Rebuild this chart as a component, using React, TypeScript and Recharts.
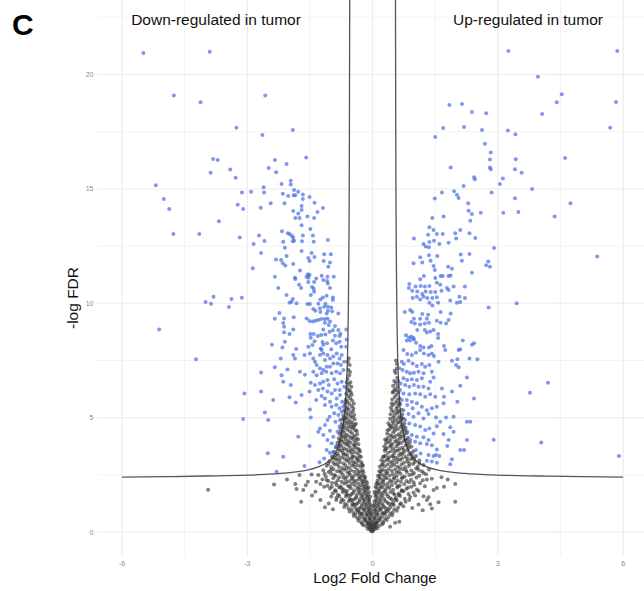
import React from 'react';
import { ComposedChart, Scatter, Line, XAxis, YAxis, CartesianGrid } from 'recharts';

const xTicks = [-6, -3, 0, 3, 6];
const yTicks = [0, 5, 10, 15, 20];
const xMinor = [-4.5, -1.5, 1.5, 4.5];
const yMinor = [2.5, 7.5, 12.5, 17.5, 22.5];
const xDomain = [-6.6, 6.5];
const yDomain = [-1.09, 23.26];

const xTitle = 'Log2 Fold Change';
const yTitle = '-log FDR';
const panelTag = 'C';
const downLabel = 'Down-regulated in tumor';
const upLabel = 'Up-regulated in tumor';

// threshold curve (|log2FC|, -log FDR)
const curveAbsX = [6, 5, 4, 3, 2.5, 2, 1.6, 1.3, 1.1, 0.95, 0.85, 0.78, 0.72, 0.68, 0.65, 0.62, 0.6, 0.59, 0.58, 0.57, 0.56, 0.555, 0.55, 0.547];
const curveY = [2.4, 2.42, 2.45, 2.49, 2.53, 2.6, 2.7, 2.85, 3.03, 3.28, 3.6, 4.0, 4.5, 5.0, 5.6, 6.7, 7.7, 8.6, 9.8, 11.8, 14.5, 17.5, 21.5, 25];

const downRegulated: number[][] = [
  [-5.49,20.94],[-3.9,21.0],[-4.76,19.09],[-4.12,18.79],[-2.57,19.09],[-3.26,17.68],[-2.64,17.36],[-1.91,17.58],[-3.82,16.31],[-3.71,16.27],[-3.41,15.85],[-3.88,15.71],[-3.28,15.49],[-5.19,15.16],[-5.0,14.56],[-3.13,14.84],[-4.87,14.12],[-4.77,13.03],[-4.15,13.03],[-3.68,13.59],[-3.23,14.31],[-3.1,14.12],[-3.18,12.88],[-4.0,10.06],[-3.87,9.98],[-3.81,10.29],[-3.38,10.19],[-3.44,9.84],[-3.13,10.24],[-5.11,8.86],[-4.23,7.55],[-3.07,6.06],[-2.58,5.23],[-3.1,4.94],[-2.5,4.9],[-2.51,3.45],
  [-2.34,16.27],[-1.59,16.38],[-2.49,15.92],[-2.06,16.09],[-2.31,15.73],[-2.18,15.22],[-1.96,15.36],[-1.96,15.19],[-2.61,15.07],[-2.6,14.84],[-2.91,14.88],[-2.15,14.79],[-1.88,14.95],[-1.78,14.88],[-1.67,14.76],[-1.51,14.65],[-2.02,14.69],[-1.89,14.72],[-1.85,14.72],[-1.67,14.56],[-2.44,14.37],[-2.11,14.37],[-1.39,14.4],[-1.7,14.25],[-1.19,14.17],[-1.9,14.04],[-1.7,14.08],[-1.78,13.93],[-1.32,13.99],[-2.68,14.18],[-1.85,13.73],[-1.75,13.73],[-1.56,13.79],[-1.4,13.73],[-1.7,13.41],[-2.17,13.15],[-1.49,13.25],[-2.72,12.97],[-2.03,13.06],[-1.98,13.02],[-1.93,12.94],[-1.9,12.87],[-1.88,12.74],[-1.91,12.71],[-1.67,12.96],[-1.43,12.97],[-2.14,12.69],[-2.59,12.72],[-2.85,12.59],[-1.69,12.71],[-1.41,12.69],[-1.07,12.77],[-2.1,12.43],[-1.7,12.29],[-2.67,12.2],[-1.46,12.2],[-1.16,12.14],[-1.0,12.14],[-1.39,12.02],[-1.54,11.98],[-1.51,11.85],[-2.31,11.92],[-2.19,11.89],[-2.06,12.07],[-2.15,11.75],[-2.09,11.65],[-1.9,11.72],[-1.17,11.85],[-1.02,11.78],[-1.06,11.6],[-2.87,11.53],[-1.74,11.44],[-1.55,11.27],[-1.51,11.24],[-1.58,11.16],[-1.54,11.12],[-1.86,11.12],[-1.85,11.06],[-2.34,11.16],[-1.22,11.21],[-1.35,11.08],[-1.08,11.16],[-0.93,11.16],[-1.18,11.02],[-1.09,10.98],[-1.07,10.87],[-1.4,10.93],[-1.54,10.93],[-1.76,10.81],[-1.71,10.67],[-2.26,10.67],[-1.45,10.71],[-1.41,10.64],[-1.4,10.51],[-1.48,10.36],[-1.02,10.67],[-2.06,10.36],[-1.19,10.25],[-1.1,10.33],[-1.25,10.17],[-0.95,10.25],[-0.95,10.14],[-1.91,10.19],[-1.94,10.07],[-1.99,10.03],[-1.82,10.0],[-1.56,9.97],[-1.5,9.97],[-1.3,9.98],[-1.13,9.98],[-1.42,9.75],[-1.37,9.68],[-1.26,9.78],[-1.16,9.85],[-1.07,9.85],[-0.99,9.82],[-1.07,9.68],[-1.25,9.62],[-1.1,9.56],[-0.97,9.65],[-0.82,9.55],[-2.23,9.58],[-2.34,9.33],[-2.12,9.34],[-1.89,9.39],[-1.58,9.34],[-1.51,9.23],[-1.43,9.2],[-1.37,9.24],[-1.3,9.27],[-1.23,9.31],[-1.15,9.31],[-1.08,9.33],[-1.02,9.21],[-2.14,9.14],[-2.12,8.98],[-1.14,9.15],[-1.05,9.05],[-0.9,9.01],[-1.9,8.86],[-1.99,8.66],[-2.12,8.73],[-1.18,8.86],[-1.03,8.76],[-0.95,8.82],[-0.82,8.83],[-0.77,8.67],[-0.63,8.86],[-1.49,8.66],[-1.41,8.66],[-1.48,8.5],[-1.31,8.57],[-1.23,8.61],[-1.13,8.64],[-0.9,8.58],[-0.79,8.57],[-0.62,8.42],[-2.41,8.19],[-2.1,8.32],[-2.16,8.07],[-1.44,8.18],[-1.39,8.34],[-1.2,8.31],[-1.18,8.19],[-1.09,8.25],[-0.95,8.37],[-0.87,8.25],[-0.79,8.32],[-0.63,8.1],[-1.83,8.0],[-1.54,8.1],[-1.24,8.02],[-0.99,7.99],[-0.75,8.1],
  [-1.22,7.96],[-1.9,7.74],[-1.86,7.59],[-1.63,7.74],[-1.5,7.81],[-1.42,7.59],[-1.38,7.45],[-1.34,7.3],[-1.26,7.74],[-1.18,7.81],[-1.14,7.52],[-1.08,7.74],[-1.02,7.59],[-0.94,7.67],[-0.86,7.81],[-0.79,7.59],[-0.74,7.74],[-0.68,7.45],[-0.76,7.3],[-0.84,7.37],[-0.94,7.37],[-1.02,7.23],[-1.1,7.23],[-1.18,7.08],[-1.26,7.16],[-2.2,7.59],[-2.34,7.2],[-2.04,7.11],[-1.74,7.01],[-1.62,6.88],[-1.42,7.01],[-1.34,6.86],[-1.22,6.94],[-1.11,7.01],[-0.98,6.94],[-0.87,7.01],[-0.78,6.94],[-0.7,7.08],[-2.67,6.98],[-2.18,6.86],[-2.14,6.57],[-1.96,6.43],[-1.48,6.53],[-1.38,6.43],[-1.26,6.5],[-1.18,6.57],[-1.08,6.65],[-1.05,6.43],[-0.92,6.68],[-0.84,6.5],[-0.74,6.57],[-0.68,6.35],[-0.79,6.21],[-0.9,6.21],[-0.98,6.06],[-1.08,6.14],[-1.19,6.28],[-1.3,6.21],[-1.51,6.14],[-1.7,5.99],[-2.67,6.14],[-2.38,5.77],[-1.99,5.89],[-1.84,5.66],[-1.5,5.36],[-1.35,5.77],[-1.22,5.95],[-1.14,5.84],[-1.02,5.7],[-0.86,5.84],[-0.78,5.99],[-0.73,5.7],[-0.7,5.48],[-0.79,5.41],[-0.87,5.55],[-0.98,5.48],[-1.14,5.55],[-0.74,5.26],[-0.82,5.12],[-0.92,5.19],[-1.03,5.04],[-1.48,5.01],[-1.08,4.9],[-0.89,4.82],[-0.78,4.9],[-1.14,4.68],[-1.26,4.53],[-1.02,4.43],[-0.79,4.61],[-0.84,4.39],[-0.94,4.17],[-1.08,4.02],[-1.18,4.24],[-1.3,4.39],[-1.78,4.17],[-1.51,3.76],[-0.98,3.88],[-0.87,3.76],[-1.1,3.59],[-1.02,3.47],[-0.94,3.5],[-1.16,3.22],[-1.27,3.05],[-2.14,3.29],[-1.63,2.89],[-2.3,2.64]
];

const upRegulated: number[][] = [
  [3.25,21.03],[5.86,21.03],[3.96,19.9],[4.53,19.14],[4.41,18.79],[5.83,18.8],[2.72,18.31],[4.06,18.28],[5.69,17.67],[3.24,17.56],[3.42,17.39],[2.69,16.98],[3.43,16.3],[4.61,16.35],[3.41,15.86],[3.57,15.71],[3.12,15.46],[3.82,15.0],[3.41,14.59],[3.13,13.96],[3.49,13.99],[4.36,13.8],[4.74,14.37],[5.38,12.05],[3.45,10.0],[3.77,6.09],[4.2,6.53],[2.9,4.04],[4.04,3.92],[5.9,3.32],
  [1.84,18.67],[2.14,18.71],[2.38,18.36],[1.69,17.66],[1.5,17.27],[2.19,17.71],[2.62,17.58],
  [2.83,16.59],[2.81,16.29],[2.81,15.94],[2.83,15.86],[1.87,15.94],[2.43,15.51],[2.45,15.42],[2.18,15.13],[3.05,15.22],[1.66,14.84],[1.95,14.9],[2.02,14.75],[2.06,14.6],[2.85,14.84],[1.49,14.58],[2.29,14.37],[2.3,14.05],[2.38,13.9],[2.59,13.96],[2.34,13.61],[1.43,13.73],[1.7,13.79],[1.36,13.32],[1.46,13.21],[1.33,13.0],[1.54,13.03],[1.68,13.03],[1.98,13.06],[2.1,13.21],[2.32,13.06],[2.46,12.86],[2.0,12.83],[0.99,12.83],[1.22,12.59],[1.36,12.68],[1.47,12.74],[1.27,12.48],[1.35,12.45],[1.6,12.59],[1.82,12.65],[2.91,12.42],[1.55,12.07],[1.14,12.01],[1.35,12.1],[0.98,11.75],[1.19,11.78],[1.39,11.86],[2.11,12.13],[2.14,11.86],[2.32,12.16],[2.77,11.83],[2.72,11.66],[2.81,11.6],[2.38,11.34],[1.46,11.63],[1.49,11.46],[1.81,11.6],[1.9,11.51],[1.23,11.19],[1.14,11.05],[1.5,11.11],[1.63,11.19],[1.68,11.19],[1.82,11.19],[1.87,11.22],[0.88,10.84],[1.03,10.73],[1.15,10.76],[1.25,10.73],[1.36,10.76],[1.54,10.9],[1.62,10.81],[1.78,10.67],[1.82,10.58],[1.94,10.73],[2.21,10.73],[0.87,10.67],[0.95,10.55],[1.07,10.52],[1.19,10.41],[1.27,10.52],[1.39,10.49],[1.5,10.49],[1.65,10.55],[0.96,10.23],[1.06,10.29],[1.14,10.17],[1.22,10.29],[1.31,10.23],[1.43,10.23],[1.54,10.26],[1.36,10.03],[1.43,9.91],[1.57,10.03],[1.86,10.12],[2.08,10.29],[2.21,10.23],[2.02,10.03],[2.1,10.06],[2.78,9.82],[0.77,9.62],[0.9,9.71],[0.95,9.62],[1.19,9.53],[1.33,9.5],[1.63,9.62],[1.87,9.56],[0.99,9.33],[1.14,9.33],[1.3,9.33],[0.93,9.18],[1.01,9.12],[1.14,9.07],[1.25,9.12],[1.35,9.15],[1.54,9.24],[1.63,9.15],[1.76,9.12],[1.82,9.27],[1.07,8.83],[1.25,8.83],[1.3,8.72],[1.38,8.77],[1.46,8.83],[1.57,8.66],[0.8,8.6],[0.87,8.51],[0.93,8.54],[0.98,8.48],[0.82,8.37],[0.9,8.37],[0.99,8.42],[1.04,8.28],[1.14,8.13],[1.22,8.07],[1.35,8.07],[1.41,8.13],[1.57,8.48],[1.71,8.13],[2.16,8.37],[2.38,8.19],[2.43,8.25],[2.1,7.99],
  [0.74,7.96],[0.83,7.78],[0.94,7.74],[1.04,7.84],[1.14,7.96],[1.23,7.81],[1.34,7.74],[1.42,7.81],[1.47,7.7],[1.58,7.45],[1.74,7.96],[1.9,7.49],[2.03,7.55],[2.06,7.96],[2.32,7.59],[2.51,7.55],[0.7,7.45],[0.75,7.35],[0.86,7.49],[0.96,7.37],[1.06,7.26],[1.18,7.35],[1.26,7.23],[1.36,7.3],[2.0,7.3],[2.06,7.2],[0.64,7.16],[0.72,7.08],[0.82,7.01],[0.9,6.94],[0.99,6.97],[1.1,7.01],[1.22,6.94],[1.42,7.01],[1.46,6.76],[1.38,6.57],[1.18,6.72],[1.06,6.65],[0.94,6.68],[0.83,6.65],[0.74,6.72],[0.67,6.5],[0.78,6.43],[0.88,6.35],[0.99,6.43],[1.1,6.35],[1.22,6.35],[1.34,6.28],[2.26,6.76],[2.1,6.4],[1.9,6.14],[1.66,6.28],[1.5,5.92],[1.38,6.03],[1.26,5.92],[1.14,6.03],[1.02,6.06],[0.88,6.03],[0.74,6.06],[0.66,6.21],[1.71,5.92],[2.03,5.7],[2.43,5.84],[1.7,5.63],[1.54,5.48],[1.42,5.41],[1.3,5.33],[1.18,5.48],[1.06,5.63],[0.94,5.7],[0.82,5.77],[0.7,5.77],[0.83,5.55],[0.96,5.41],[0.74,5.33],[0.86,5.16],[0.98,5.04],[1.1,5.19],[1.22,4.97],[1.34,5.16],[1.52,5.01],[1.62,4.82],[1.76,5.01],[1.94,5.04],[2.26,4.82],[2.34,4.82],[0.78,4.9],[0.88,4.75],[1.02,4.68],[1.14,4.61],[1.26,4.46],[1.36,4.53],[1.46,4.31],[1.54,4.63],[1.86,4.58],[1.94,4.39],[1.7,4.29],[0.83,4.39],[0.94,4.24],[1.06,4.17],[1.22,4.14],[1.34,4.02],[1.3,3.85],[1.14,3.88],[1.02,3.95],[0.9,4.02],[1.42,3.8],[1.82,4.02],[2.26,4.02],[1.79,3.76],[1.54,3.61],[2.1,3.59],[2.19,3.59],[1.04,3.59],[1.15,3.44],[1.34,3.37],[1.46,3.32],[1.52,3.37],[1.6,3.32],[1.9,3.18],[1.86,2.97],[1.3,3.12],[1.42,3.08],[1.54,3.03]
];

const notSignificant: number[][] = [
  [-3.94,1.85],[-2.36,2.08],[-1.75,2.49],[-1.46,2.52],[-1.82,1.88],[-1.66,1.84],[-1.71,1.33],[-1.37,1.76],[-1.35,2.2],[-1.16,1.98],[-1.14,1.08],[-0.99,1.55],[-0.87,1.4],
  [-1.55,2.2],[-1.85,2.1],[-1.45,1.6],[-1.25,1.4],[-1.05,1.25],[-2.05,2.3],[-1.6,2.05],[-0.95,1.0],
  [1.98,2.1],[1.98,1.33],[1.71,1.98],[1.58,1.3],[1.22,1.57],[1.3,1.4],[1.42,1.03],[1.65,2.4],[1.8,2.3],
  [1.46,1.84],[1.34,1.52],[1.38,1.22],[1.1,1.2],[0.95,1.05],[1.2,0.95],
  [-0.57,7.6],[-0.55,7.3],[-0.58,7.1],[-0.56,6.85],[-0.6,6.7],[-0.53,6.55],[-0.57,6.45],[-0.61,6.3],[-0.55,6.2],[-0.51,6.35],[-0.63,6.05],[-0.58,5.95],[-0.52,6.1],[-0.64,5.8],[-0.6,5.7],[-0.54,5.85],[-0.49,5.75],[-0.66,5.55],[-0.61,5.45],[-0.56,5.6],[-0.5,5.5],[-0.46,5.4],[-0.68,5.3],[-0.63,5.22],[-0.57,5.35],[-0.52,5.2],[-0.47,5.28],[-0.7,5.1],[-0.64,5.02],[-0.59,5.14],[-0.53,5.05],[-0.44,5.12],
  [-0.73,4.92],[-0.67,4.85],[-0.62,4.95],[-0.55,4.88],[-0.49,4.8],[-0.43,4.93],[-0.74,4.72],[-0.69,4.65],[-0.63,4.76],[-0.58,4.62],[-0.51,4.7],[-0.45,4.6],[-0.4,4.74],[-0.77,4.52],[-0.71,4.44],[-0.66,4.55],[-0.6,4.47],[-0.54,4.4],[-0.47,4.53],[-0.41,4.45],[-0.79,4.3],[-0.74,4.22],[-0.68,4.34],[-0.62,4.25],[-0.56,4.18],[-0.49,4.32],[-0.43,4.2],[-0.37,4.28],[-0.81,4.1],[-0.75,4.02],[-0.7,4.14],[-0.64,4.05],[-0.58,3.98],[-0.51,4.1],[-0.44,4.0],[-0.38,4.08],
  [-0.84,3.9],[-0.78,3.83],[-0.71,3.95],[-0.66,3.86],[-0.59,3.8],[-0.53,3.92],[-0.46,3.82],[-0.4,3.9],[-0.34,3.84],[-0.88,3.7],[-0.81,3.63],[-0.75,3.75],[-0.68,3.66],[-0.62,3.6],[-0.55,3.72],[-0.48,3.62],[-0.41,3.7],[-0.35,3.64],[-0.92,3.5],[-0.85,3.43],[-0.78,3.55],[-0.71,3.46],[-0.64,3.4],[-0.57,3.52],[-0.5,3.42],[-0.43,3.5],[-0.36,3.44],[-0.3,3.52],[-0.97,3.3],[-0.89,3.23],[-0.82,3.35],[-0.74,3.26],[-0.67,3.2],[-0.6,3.32],[-0.52,3.22],[-0.45,3.3],[-0.38,3.24],[-0.31,3.32],[-1.03,3.1],[-0.94,3.03],[-0.86,3.15],[-0.78,3.06],[-0.7,3.0],[-0.62,3.12],[-0.55,3.02],[-0.47,3.1],[-0.4,3.04],[-0.33,3.12],[-0.27,3.05],
  [-1.1,2.9],[-0.99,2.83],[-0.9,2.95],[-0.81,2.86],[-0.73,2.8],[-0.65,2.92],[-0.57,2.82],[-0.49,2.9],[-0.42,2.84],[-0.35,2.92],[-0.28,2.85],[-0.23,2.9],[-1.18,2.7],[-1.05,2.63],[-0.94,2.75],[-0.85,2.66],[-0.76,2.6],[-0.68,2.72],[-0.6,2.62],[-0.52,2.7],[-0.44,2.64],[-0.37,2.72],[-0.3,2.65],[-0.24,2.7],[-1.3,2.5],[-1.12,2.43],[-0.99,2.55],[-0.89,2.46],[-0.8,2.4],[-0.71,2.52],[-0.62,2.42],[-0.54,2.5],[-0.46,2.44],[-0.39,2.52],[-0.32,2.45],[-0.25,2.5],[-0.2,2.44],[-1.2,2.3],[-1.06,2.23],[-0.94,2.35],[-0.83,2.26],[-0.74,2.2],[-0.65,2.32],[-0.56,2.22],[-0.48,2.3],[-0.4,2.24],[-0.33,2.32],[-0.26,2.25],[-0.2,2.3],[-0.16,2.22],[-1.25,2.1],[-1.08,2.03],[-0.97,2.15],[-0.86,2.06],[-0.77,2.0],[-0.68,2.12],[-0.59,2.02],[-0.5,2.1],[-0.42,2.04],[-0.34,2.12],[-0.27,2.05],[-0.21,2.1],[-0.15,2.02],
  [-1.02,1.9],[-0.9,1.83],[-0.8,1.95],[-0.7,1.86],[-0.61,1.8],[-0.52,1.92],[-0.44,1.82],[-0.36,1.9],[-0.29,1.84],[-0.22,1.92],[-0.16,1.85],[-0.12,1.9],[-0.95,1.7],[-0.83,1.63],[-0.72,1.75],[-0.63,1.66],[-0.54,1.6],[-0.46,1.72],[-0.38,1.62],[-0.3,1.7],[-0.23,1.64],[-0.17,1.72],[-0.11,1.65],[-0.86,1.5],[-0.74,1.43],[-0.64,1.55],[-0.55,1.46],[-0.47,1.4],[-0.39,1.52],[-0.31,1.42],[-0.24,1.5],[-0.18,1.44],[-0.12,1.52],[-0.08,1.45],[-0.76,1.3],[-0.66,1.23],[-0.57,1.35],[-0.48,1.26],[-0.4,1.2],[-0.32,1.32],[-0.25,1.22],[-0.19,1.3],[-0.13,1.24],[-0.08,1.32],[-0.68,1.1],[-0.58,1.03],[-0.49,1.15],[-0.41,1.06],[-0.33,1.0],[-0.26,1.12],[-0.2,1.02],[-0.14,1.1],[-0.09,1.04],[-0.05,1.12],
  [-0.55,0.9],[-0.46,0.83],[-0.38,0.95],[-0.31,0.86],[-0.24,0.8],[-0.18,0.92],[-0.13,0.82],[-0.08,0.9],[-0.04,0.84],[-0.45,0.7],[-0.37,0.63],[-0.3,0.75],[-0.23,0.66],[-0.17,0.6],[-0.12,0.72],[-0.07,0.62],[-0.03,0.7],[-0.34,0.5],[-0.27,0.43],[-0.2,0.55],[-0.14,0.46],[-0.09,0.4],[-0.05,0.52],[-0.02,0.45],[-0.22,0.3],[-0.15,0.26],[-0.1,0.34],[-0.06,0.24],[-0.03,0.3],[-0.12,0.15],[-0.07,0.12],[-0.03,0.18],[-0.04,0.05],[0.0,0.03],
  [-0.59,7.45],[-0.54,7.0],[-0.62,6.55],[-0.5,6.0],[-0.58,6.18],[-0.65,5.68],[-0.45,5.62],[-0.62,5.38],[-0.48,5.02],[-0.69,4.98],[-0.58,4.78],[-0.43,4.68],[-0.72,4.6],[-0.52,4.58],[-0.38,4.42],[-0.76,4.38],[-0.65,4.18],[-0.47,4.15],[-0.35,4.05],[-0.79,3.98],[-0.61,3.88],[-0.43,3.78],[-0.83,3.75],[-0.72,3.58],[-0.52,3.55],[-0.32,3.6],[-0.9,3.35],[-0.69,3.38],[-0.48,3.28],[-0.28,3.28],[-0.95,3.2],[-0.8,3.18],[-0.58,3.16],[-0.36,3.18],[-1.06,2.98],[-0.84,2.98],[-0.63,2.78],[-0.45,2.98],[-0.25,2.95],[-1.0,2.7],[-0.78,2.68],[-0.56,2.58],[-0.34,2.58],[-0.22,2.62],[-1.15,2.55],[-0.92,2.5],[-0.7,2.38],[-0.5,2.36],[-0.29,2.38],[-0.18,2.4],[-1.1,2.28],[-0.88,2.16],[-0.63,2.18],[-0.44,2.18],[-0.24,2.18],[-0.13,2.15],[-0.98,1.98],[-0.74,1.92],[-0.55,1.98],[-0.33,1.96],[-0.19,1.98],[-0.1,1.96],[-0.88,1.78],[-0.66,1.78],[-0.5,1.66],[-0.34,1.76],[-0.2,1.78],[-0.09,1.75],[-0.8,1.58],[-0.6,1.62],[-0.42,1.46],[-0.27,1.58],[-0.15,1.58],[-0.06,1.55],[-0.7,1.38],[-0.52,1.4],[-0.36,1.26],[-0.22,1.38],[-0.1,1.38],[-0.62,1.18],[-0.45,1.2],[-0.3,1.06],[-0.17,1.18],[-0.06,1.2],[-0.5,0.98],[-0.35,0.9],[-0.22,0.98],[-0.1,0.96],[-0.02,0.98],[-0.41,0.78],[-0.27,0.8],[-0.15,0.76],[-0.05,0.78],[-0.31,0.6],[-0.18,0.5],[-0.08,0.58],[-0.25,0.36],[-0.12,0.38],[-0.04,0.36],[-0.08,0.22],[-0.02,0.12],
  [0.56,7.5],[0.58,7.15],[0.55,6.95],[0.59,6.75],[0.52,6.6],[0.56,6.5],[0.6,6.35],[0.53,6.25],[0.49,6.4],[0.62,6.1],[0.57,6.0],[0.5,6.15],[0.64,5.85],[0.59,5.75],[0.53,5.9],[0.47,5.8],[0.66,5.6],[0.6,5.5],[0.55,5.65],[0.49,5.55],[0.44,5.45],[0.69,5.35],[0.63,5.25],[0.57,5.4],[0.51,5.25],[0.46,5.32],[0.71,5.15],[0.65,5.05],[0.58,5.18],[0.52,5.08],[0.43,5.15],
  [0.74,4.95],[0.68,4.88],[0.61,4.98],[0.54,4.9],[0.48,4.83],[0.42,4.95],[0.76,4.75],[0.7,4.68],[0.64,4.8],[0.57,4.66],[0.5,4.74],[0.44,4.63],[0.38,4.76],[0.79,4.55],[0.73,4.47],[0.67,4.58],[0.6,4.5],[0.53,4.43],[0.46,4.56],[0.4,4.48],[0.82,4.33],[0.76,4.25],[0.69,4.37],[0.63,4.28],[0.56,4.21],[0.49,4.35],[0.42,4.23],[0.35,4.31],[0.85,4.12],[0.78,4.05],[0.72,4.17],[0.65,4.08],[0.58,4.01],[0.51,4.13],[0.43,4.03],[0.36,4.11],[0.3,4.05],
  [0.89,3.93],[0.82,3.86],[0.75,3.98],[0.68,3.89],[0.61,3.83],[0.54,3.95],[0.47,3.85],[0.39,3.93],[0.32,3.87],[0.93,3.73],[0.86,3.66],[0.79,3.78],[0.71,3.69],[0.64,3.63],[0.57,3.75],[0.49,3.65],[0.42,3.73],[0.34,3.67],[0.28,3.74],[0.98,3.53],[0.91,3.46],[0.83,3.58],[0.75,3.49],[0.67,3.43],[0.6,3.55],[0.52,3.45],[0.44,3.53],[0.37,3.47],[0.29,3.55],[1.04,3.33],[0.96,3.26],[0.87,3.38],[0.79,3.29],[0.71,3.23],[0.63,3.35],[0.55,3.25],[0.47,3.33],[0.39,3.27],[0.31,3.35],[0.25,3.28],[1.12,3.13],[1.01,3.06],[0.92,3.18],[0.83,3.09],[0.75,3.03],[0.66,3.15],[0.58,3.05],[0.5,3.13],[0.42,3.07],[0.34,3.15],[0.27,3.08],[0.21,3.14],
  [1.22,2.93],[1.08,2.86],[0.97,2.98],[0.87,2.89],[0.78,2.83],[0.69,2.95],[0.6,2.85],[0.52,2.93],[0.44,2.87],[0.36,2.95],[0.29,2.88],[0.22,2.93],[0.17,2.86],[1.35,2.73],[1.18,2.66],[1.04,2.78],[0.93,2.69],[0.82,2.63],[0.72,2.75],[0.63,2.65],[0.54,2.73],[0.46,2.67],[0.38,2.75],[0.3,2.68],[0.23,2.73],[0.16,2.66],[1.28,2.53],[1.12,2.46],[0.99,2.58],[0.88,2.49],[0.77,2.43],[0.67,2.55],[0.58,2.45],[0.49,2.53],[0.41,2.47],[0.33,2.55],[0.26,2.48],[0.19,2.53],[0.13,2.46],[1.42,2.33],[1.2,2.26],[1.05,2.38],[0.92,2.29],[0.81,2.23],[0.7,2.35],[0.6,2.25],[0.51,2.33],[0.42,2.27],[0.34,2.35],[0.26,2.28],[0.19,2.33],[0.12,2.26],[1.14,2.13],[1.0,2.06],[0.87,2.18],[0.76,2.09],[0.65,2.03],[0.55,2.15],[0.46,2.05],[0.37,2.13],[0.29,2.07],[0.21,2.15],[0.14,2.08],[0.09,2.12],
  [1.54,1.93],[1.06,1.86],[0.93,1.98],[0.81,1.89],[0.7,1.83],[0.59,1.95],[0.49,1.85],[0.4,1.93],[0.31,1.87],[0.23,1.95],[0.16,1.88],[0.1,1.93],[0.98,1.73],[0.86,1.66],[0.74,1.78],[0.63,1.69],[0.53,1.63],[0.43,1.75],[0.34,1.65],[0.25,1.73],[0.18,1.67],[0.11,1.75],[0.06,1.68],[0.9,1.53],[0.77,1.46],[0.66,1.58],[0.56,1.49],[0.46,1.43],[0.37,1.55],[0.28,1.45],[0.2,1.53],[0.13,1.47],[0.07,1.55],[0.79,1.33],[0.68,1.26],[0.58,1.38],[0.49,1.29],[0.4,1.23],[0.31,1.35],[0.23,1.25],[0.16,1.33],[0.1,1.27],[0.05,1.35],[0.74,1.13],[0.61,1.06],[0.51,1.18],[0.42,1.09],[0.33,1.03],[0.25,1.15],[0.18,1.05],[0.12,1.13],[0.06,1.07],[0.02,1.14],
  [0.58,0.93],[0.48,0.86],[0.39,0.98],[0.31,0.89],[0.23,0.83],[0.16,0.95],[0.1,0.85],[0.05,0.93],[0.47,0.73],[0.38,0.66],[0.3,0.78],[0.22,0.69],[0.15,0.63],[0.09,0.75],[0.04,0.65],[0.64,0.45],[0.54,0.41],[0.42,0.23],[0.34,0.53],[0.26,0.46],[0.19,0.58],[0.12,0.49],[0.07,0.43],[0.03,0.55],[0.22,0.33],[0.15,0.27],[0.09,0.36],[0.05,0.25],[0.02,0.32],[0.11,0.17],[0.06,0.13],[0.03,0.2],[0.01,0.08],
  [0.58,7.35],[0.53,7.05],[0.61,6.6],[0.48,6.1],[0.57,6.2],[0.63,5.62],[0.46,5.62],[0.6,5.3],[0.49,5.0],[0.7,5.0],[0.6,4.8],[0.41,4.66],[0.75,4.62],[0.53,4.55],[0.36,4.45],[0.79,4.42],[0.66,4.2],[0.46,4.18],[0.33,4.0],[0.82,4.0],[0.62,3.9],[0.44,3.8],[0.87,3.78],[0.74,3.6],[0.54,3.57],[0.31,3.62],[0.94,3.38],[0.71,3.4],[0.49,3.3],[0.27,3.3],[1.0,3.2],[0.83,3.2],[0.6,3.18],[0.37,3.2],[1.12,3.0],[0.88,3.0],[0.65,2.8],[0.47,3.0],[0.24,2.98],[1.1,2.72],[0.8,2.7],[0.58,2.6],[0.35,2.6],[0.2,2.65],[1.22,2.58],[0.95,2.52],[0.72,2.4],[0.52,2.38],[0.3,2.4],[0.16,2.42],[1.3,2.3],[0.98,2.18],[0.68,2.2],[0.46,2.2],[0.25,2.2],[0.12,2.16],[1.25,2.0],[0.85,1.95],[0.6,2.0],[0.36,1.98],[0.2,2.0],[0.07,1.98],[1.1,1.8],[0.7,1.8],[0.5,1.7],[0.3,1.78],[0.15,1.78],[0.05,1.76],[1.02,1.6],[0.62,1.62],[0.42,1.48],[0.24,1.6],[0.1,1.6],[0.88,1.4],[0.54,1.42],[0.36,1.28],[0.2,1.4],[0.08,1.4],[0.66,1.2],[0.46,1.2],[0.28,1.08],[0.15,1.2],[0.04,1.2],[0.52,1.0],[0.35,0.92],[0.2,1.0],[0.08,0.98],[0.42,0.8],[0.26,0.82],[0.13,0.78],[0.03,0.8],[0.3,0.6],[0.16,0.5],[0.06,0.6],[0.25,0.38],[0.1,0.4],[0.04,0.38],[0.07,0.24]
];

const toPoints = (arr: number[][]) => arr.map(([x, y]) => ({ x, y }));
const downData = toPoints(downRegulated);
const upData = toPoints(upRegulated);
const grayData = toPoints(notSignificant);
const curveLeft = curveAbsX.map((ax, i) => ({ x: -ax, y: curveY[i] }));
const curveRight = curveAbsX.map((ax, i) => ({ x: ax, y: curveY[i] })).reverse();

const FONT = '"Liberation Sans", Arial, Helvetica, sans-serif';

const BlueDot = (p: any) => <circle cx={p.cx} cy={p.cy} r={2} fill="#4169e1" fillOpacity={0.68} />;
const GrayDot = (p: any) => <circle cx={p.cx} cy={p.cy} r={2} fill="#333333" fillOpacity={0.62} />;

const XTick = (p: any) => (
  <text x={p.x} y={p.y - 1} dy="0.35em" textAnchor="middle" fontSize={7} fill="#888" fontFamily={FONT}>
    {p.payload.value}
  </text>
);
const YTick = (p: any) => (
  <text x={p.x + 4.5} y={p.y} dy="0.35em" textAnchor="end" fontSize={7} fill="#888" fontFamily={FONT}>
    {p.payload.value}
  </text>
);

export default function App() {
  return (
    <div style={{ position: 'absolute', left: 0, top: 0, width: 644, height: 591, background: '#fff' }}>
      <ComposedChart width={644} height={591} margin={{ top: 0, right: 0, bottom: 0, left: 0 }}>
        <CartesianGrid stroke="#f0f0f0" strokeWidth={0.8} horizontalValues={yMinor} verticalValues={xMinor} />
        <CartesianGrid stroke="#ebebeb" strokeWidth={1.1} horizontalValues={yTicks} verticalValues={xTicks} />
        <XAxis type="number" dataKey="x" domain={xDomain} ticks={xTicks} allowDataOverflow axisLine={false} tickLine={false} height={34} tick={<XTick />} interval={0} />
        <YAxis type="number" dataKey="y" domain={yDomain} ticks={yTicks} allowDataOverflow axisLine={false} tickLine={false} width={97} tick={<YTick />} interval={0} />
        <Scatter data={grayData} shape={GrayDot} isAnimationActive={false} />
        <Scatter data={downData} shape={BlueDot} isAnimationActive={false} />
        <Scatter data={upData} shape={BlueDot} isAnimationActive={false} />
        <Line data={curveLeft} dataKey="y" type="monotone" stroke="#555" strokeWidth={1.3} dot={false} isAnimationActive={false} />
        <Line data={curveRight} dataKey="y" type="monotone" stroke="#555" strokeWidth={1.3} dot={false} isAnimationActive={false} />
      </ComposedChart>
      <svg width={644} height={591} style={{ position: 'absolute', left: 0, top: 0, pointerEvents: 'none' }}>
        <text x={12} y={35} fontSize={30} fontWeight="bold" fontFamily={FONT} fill="#000">{panelTag}</text>
        <text x={216} y={25} fontSize={15.5} textAnchor="middle" fontFamily={FONT} fill="#111">{downLabel}</text>
        <text x={528} y={25} fontSize={15.5} textAnchor="middle" fontFamily={FONT} fill="#111">{upLabel}</text>
        <text x={375} y={583} fontSize={15} textAnchor="middle" fontFamily={FONT} fill="#111">{xTitle}</text>
        <text transform="translate(78,298) rotate(-90)" fontSize={15.5} textAnchor="middle" fontFamily={FONT} fill="#111">{yTitle}</text>
      </svg>
    </div>
  );
}
